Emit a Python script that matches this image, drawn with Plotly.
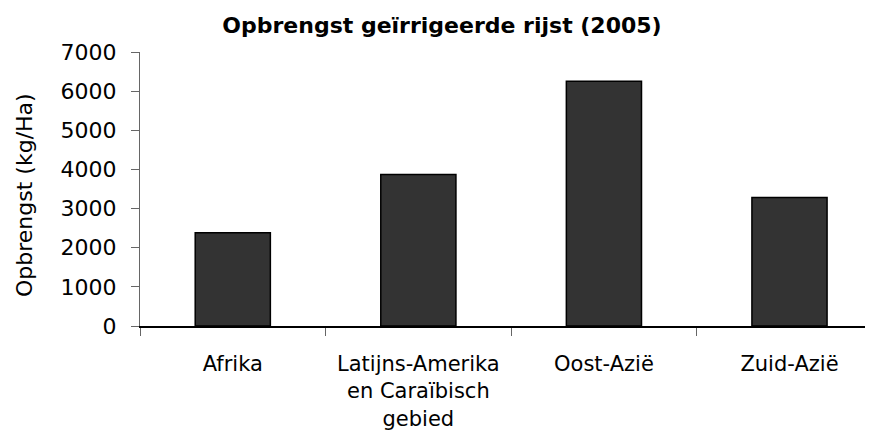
import plotly.graph_objects as go

categories = ["Afrika", "Latijns-Amerika<br>en Caraïbisch<br>gebied", "Oost-Azië", "Zuid-Azië"]
values = [2380, 3870, 6250, 3285]
y_ticks = [0, 1000, 2000, 3000, 4000, 5000, 6000, 7000]

FONT = "DejaVu Sans"

fig = go.Figure()
fig.add_trace(go.Bar(
    x=categories, y=values,
    marker=dict(color="#333333", line=dict(color="#000000", width=1.5)),
    width=0.405,
))

fig.update_layout(
    width=865, height=422,
    margin=dict(l=132, r=0, t=44, b=104),
    paper_bgcolor="white", plot_bgcolor="white",
    showlegend=False,
    font=dict(family=FONT, size=22, color="black"),
    title=dict(text="<b>Opbrengst geïrrigeerde rijst (2005)</b>",
               x=0.5017, xanchor="center", y=0.958, yanchor="middle",
               font=dict(family=FONT, size=22, color="black")),
    xaxis=dict(
        range=[-0.5, 3.45],
        showline=True, linecolor="black", linewidth=1.5,
        ticks="outside", tickson="boundaries", ticklen=8, tickcolor="#666666", tickwidth=1,
        tickfont=dict(family=FONT, size=21, color="black"),
        ticklabelstandoff=18,
        showgrid=False, zeroline=False,
    ),
    yaxis=dict(
        range=[0, 7000], tickvals=y_ticks,
        showline=True, linecolor="#666666", linewidth=1,
        ticks="outside", ticklen=8, tickcolor="#666666", tickwidth=1,
        tickfont=dict(family=FONT, size=22, color="black"),
        ticklabelstandoff=10,
        showgrid=False, zeroline=False,
    ),
    annotations=[dict(
        text="Opbrengst (kg/Ha)", textangle=-90,
        xref="paper", yref="paper", x=-0.1583, y=0.478,
        xanchor="center", yanchor="middle", showarrow=False,
        font=dict(family=FONT, size=22, color="black"),
    )],
)

fig.write_html("out.html")
